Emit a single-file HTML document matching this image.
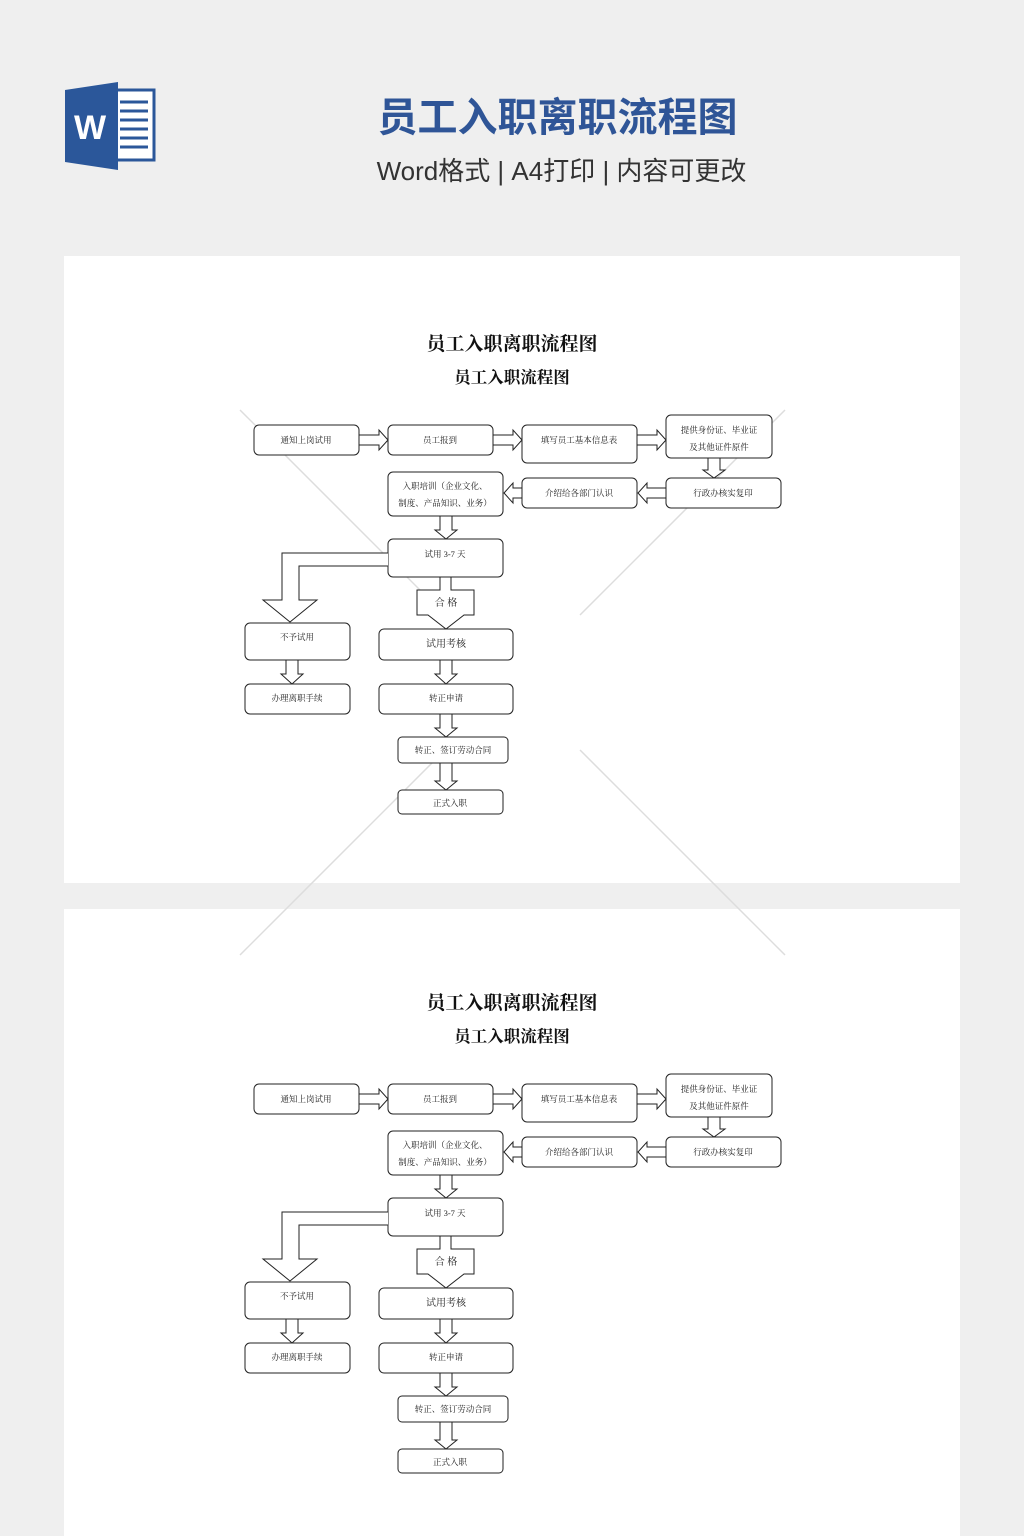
<!DOCTYPE html>
<html><head><meta charset="utf-8">
<style>
html,body{margin:0;padding:0;}
body{width:1024px;height:1536px;background:#efefef;position:relative;overflow:hidden;font-family:"Liberation Sans","Noto Sans CJK SC",sans-serif;}
.t1{position:absolute;left:0;width:1115px;text-align:center;top:92px;font-size:40px;font-weight:bold;color:#2f5597;letter-spacing:0px;line-height:52px;}
.t2{position:absolute;left:0;width:1123px;text-align:center;top:154px;font-size:26px;color:#333;line-height:34px;}
.card{position:absolute;left:64px;width:896px;background:#fff;}
svg{position:absolute;left:0;top:0;}
</style></head><body>
<div class="t1">员工入职离职流程图</div>
<div class="t2">Word格式 | A4打印 | 内容可更改</div>
<div class="card" style="top:256px;height:627px"></div>
<div class="card" style="top:909px;height:627px"></div>
<svg width="1024" height="1536" viewBox="0 0 1024 1536">
<!-- word icon -->
<rect x="114" y="90" width="40" height="70" fill="#fff" stroke="#2b579a" stroke-width="3"/>
<g stroke="#2b579a" stroke-width="3">
<line x1="120" y1="102" x2="148" y2="102"/><line x1="120" y1="111" x2="148" y2="111"/>
<line x1="120" y1="120" x2="148" y2="120"/><line x1="120" y1="129" x2="148" y2="129"/>
<line x1="120" y1="138" x2="148" y2="138"/><line x1="120" y1="147" x2="148" y2="147"/>
</g>
<polygon points="65,90 118,82 118,170 65,162" fill="#2b579a"/>
<text x="90" y="139" font-family="Liberation Sans,sans-serif" font-weight="bold" font-size="34" fill="#fff" text-anchor="middle">W</text>

<g id="d1">
<g font-family="Liberation Serif,Noto Serif CJK SC,serif" font-weight="bold" text-anchor="middle" fill="#111">
<text x="512" y="350" font-size="19">员工入职离职流程图</text>
<text x="512" y="383" font-size="16.5">员工入职流程图</text>
</g>
<g stroke="#ddd" stroke-width="1.5" fill="none">
<line x1="240" y1="410" x2="450" y2="620"/><line x1="785" y1="410" x2="580" y2="615"/>
<line x1="240" y1="955" x2="450" y2="745"/><line x1="785" y1="955" x2="580" y2="750"/>
</g>
<g fill="#fff" stroke="#222" stroke-width="1">
<rect x="254" y="425" width="105" height="30" rx="5"/>
<rect x="388" y="425" width="105" height="30" rx="5"/>
<rect x="522" y="425" width="115" height="38" rx="5"/>
<rect x="666" y="415" width="106" height="43" rx="5"/>
<rect x="666" y="478" width="115" height="30" rx="5"/>
<rect x="522" y="478" width="115" height="30" rx="5"/>
<rect x="388" y="472" width="115" height="44" rx="5"/>
<rect x="388" y="539" width="115" height="38" rx="5"/>
<rect x="245" y="623" width="105" height="37" rx="5"/>
<rect x="245" y="684" width="105" height="30" rx="5"/>
<rect x="379" y="629" width="134" height="31" rx="5"/>
<rect x="379" y="684" width="134" height="30" rx="5"/>
<rect x="398" y="737" width="110" height="26" rx="4"/>
<rect x="398" y="790" width="105" height="24" rx="4"/>
<!-- right arrows -->
<path d="M359 435 H379 V430 L388 440 L379 450 V445 H359 Z"/>
<path d="M493 435 H513 V430 L522 440 L513 450 V445 H493 Z"/>
<path d="M637 435 H657 V430 L666 440 L657 450 V445 H637 Z"/>
<!-- left arrows -->
<path d="M666 488 H647 V483 L638 493 L647 503 V498 H666 Z"/>
<path d="M522 488 H513 V483 L504 493 L513 503 V498 H522 Z"/>
<!-- down arrows -->
<path d="M708 458 V470 H703 L714 478 L725 470 H720 V458 Z"/>
<path d="M440 516 V530 H435 L446 539 L457 530 H452 V516 Z"/>
<path d="M292 660 V674 H287 L298 684 L309 674 H304 V660 Z" transform="translate(-6,0)"/>
<path d="M440 660 V674 H435 L446 684 L457 674 H452 V660 Z"/>
<path d="M440 714 V728 H435 L446 737 L457 728 H452 V714 Z"/>
<path d="M440 763 V781 H435 L446 790 L457 781 H452 V763 Z"/>
<!-- L arrow -->
<path d="M388 553 H282 V600 H263 L290 622 L317 600 H299 V566 H388"/>
<!-- 合格 -->
<path d="M440 577 V590 H417 V615 H428 L446 629 L464 615 H474 V590 H451 V577 Z"/>
</g>
<g font-family="Liberation Serif,Noto Serif CJK SC,serif" font-size="8.5" text-anchor="middle" fill="#222">
<text x="306" y="443">通知上岗试用</text>
<text x="440" y="443">员工报到</text>
<text x="579" y="443">填写员工基本信息表</text>
<text x="719" y="433">提供身份证、毕业证</text>
<text x="719" y="450">及其他证件原件</text>
<text x="723" y="496">行政办核实复印</text>
<text x="579" y="496">介绍给各部门认识</text>
<text x="445" y="489">入职培训（企业文化、</text>
<text x="445" y="506">制度、产品知识、业务）</text>
<text x="445" y="557">试用 3-7 天</text>
<text x="446" y="606" font-size="10">合 格</text>
<text x="297" y="640">不予试用</text>
<text x="297" y="701">办理离职手续</text>
<text x="446" y="647" font-size="10">试用考核</text>
<text x="446" y="701">转正申请</text>
<text x="453" y="753">转正、签订劳动合同</text>
<text x="450" y="806">正式入职</text>
</g>
</g>
<g transform="translate(0,659)">
<g font-family="Liberation Serif,Noto Serif CJK SC,serif" font-weight="bold" text-anchor="middle" fill="#111">
<text x="512" y="350" font-size="19">员工入职离职流程图</text>
<text x="512" y="383" font-size="16.5">员工入职流程图</text>
</g>
<g fill="#fff" stroke="#222" stroke-width="1">
<rect x="254" y="425" width="105" height="30" rx="5"/>
<rect x="388" y="425" width="105" height="30" rx="5"/>
<rect x="522" y="425" width="115" height="38" rx="5"/>
<rect x="666" y="415" width="106" height="43" rx="5"/>
<rect x="666" y="478" width="115" height="30" rx="5"/>
<rect x="522" y="478" width="115" height="30" rx="5"/>
<rect x="388" y="472" width="115" height="44" rx="5"/>
<rect x="388" y="539" width="115" height="38" rx="5"/>
<rect x="245" y="623" width="105" height="37" rx="5"/>
<rect x="245" y="684" width="105" height="30" rx="5"/>
<rect x="379" y="629" width="134" height="31" rx="5"/>
<rect x="379" y="684" width="134" height="30" rx="5"/>
<rect x="398" y="737" width="110" height="26" rx="4"/>
<rect x="398" y="790" width="105" height="24" rx="4"/>
<path d="M359 435 H379 V430 L388 440 L379 450 V445 H359 Z"/>
<path d="M493 435 H513 V430 L522 440 L513 450 V445 H493 Z"/>
<path d="M637 435 H657 V430 L666 440 L657 450 V445 H637 Z"/>
<path d="M666 488 H647 V483 L638 493 L647 503 V498 H666 Z"/>
<path d="M522 488 H513 V483 L504 493 L513 503 V498 H522 Z"/>
<path d="M708 458 V470 H703 L714 478 L725 470 H720 V458 Z"/>
<path d="M440 516 V530 H435 L446 539 L457 530 H452 V516 Z"/>
<path d="M292 660 V674 H287 L298 684 L309 674 H304 V660 Z" transform="translate(-6,0)"/>
<path d="M440 660 V674 H435 L446 684 L457 674 H452 V660 Z"/>
<path d="M440 714 V728 H435 L446 737 L457 728 H452 V714 Z"/>
<path d="M440 763 V781 H435 L446 790 L457 781 H452 V763 Z"/>
<path d="M388 553 H282 V600 H263 L290 622 L317 600 H299 V566 H388"/>
<path d="M440 577 V590 H417 V615 H428 L446 629 L464 615 H474 V590 H451 V577 Z"/>
</g>
<g font-family="Liberation Serif,Noto Serif CJK SC,serif" font-size="8.5" text-anchor="middle" fill="#222">
<text x="306" y="443">通知上岗试用</text>
<text x="440" y="443">员工报到</text>
<text x="579" y="443">填写员工基本信息表</text>
<text x="719" y="433">提供身份证、毕业证</text>
<text x="719" y="450">及其他证件原件</text>
<text x="723" y="496">行政办核实复印</text>
<text x="579" y="496">介绍给各部门认识</text>
<text x="445" y="489">入职培训（企业文化、</text>
<text x="445" y="506">制度、产品知识、业务）</text>
<text x="445" y="557">试用 3-7 天</text>
<text x="446" y="606" font-size="10">合 格</text>
<text x="297" y="640">不予试用</text>
<text x="297" y="701">办理离职手续</text>
<text x="446" y="647" font-size="10">试用考核</text>
<text x="446" y="701">转正申请</text>
<text x="453" y="753">转正、签订劳动合同</text>
<text x="450" y="806">正式入职</text>
</g>
</g>
</svg>
</body></html>
